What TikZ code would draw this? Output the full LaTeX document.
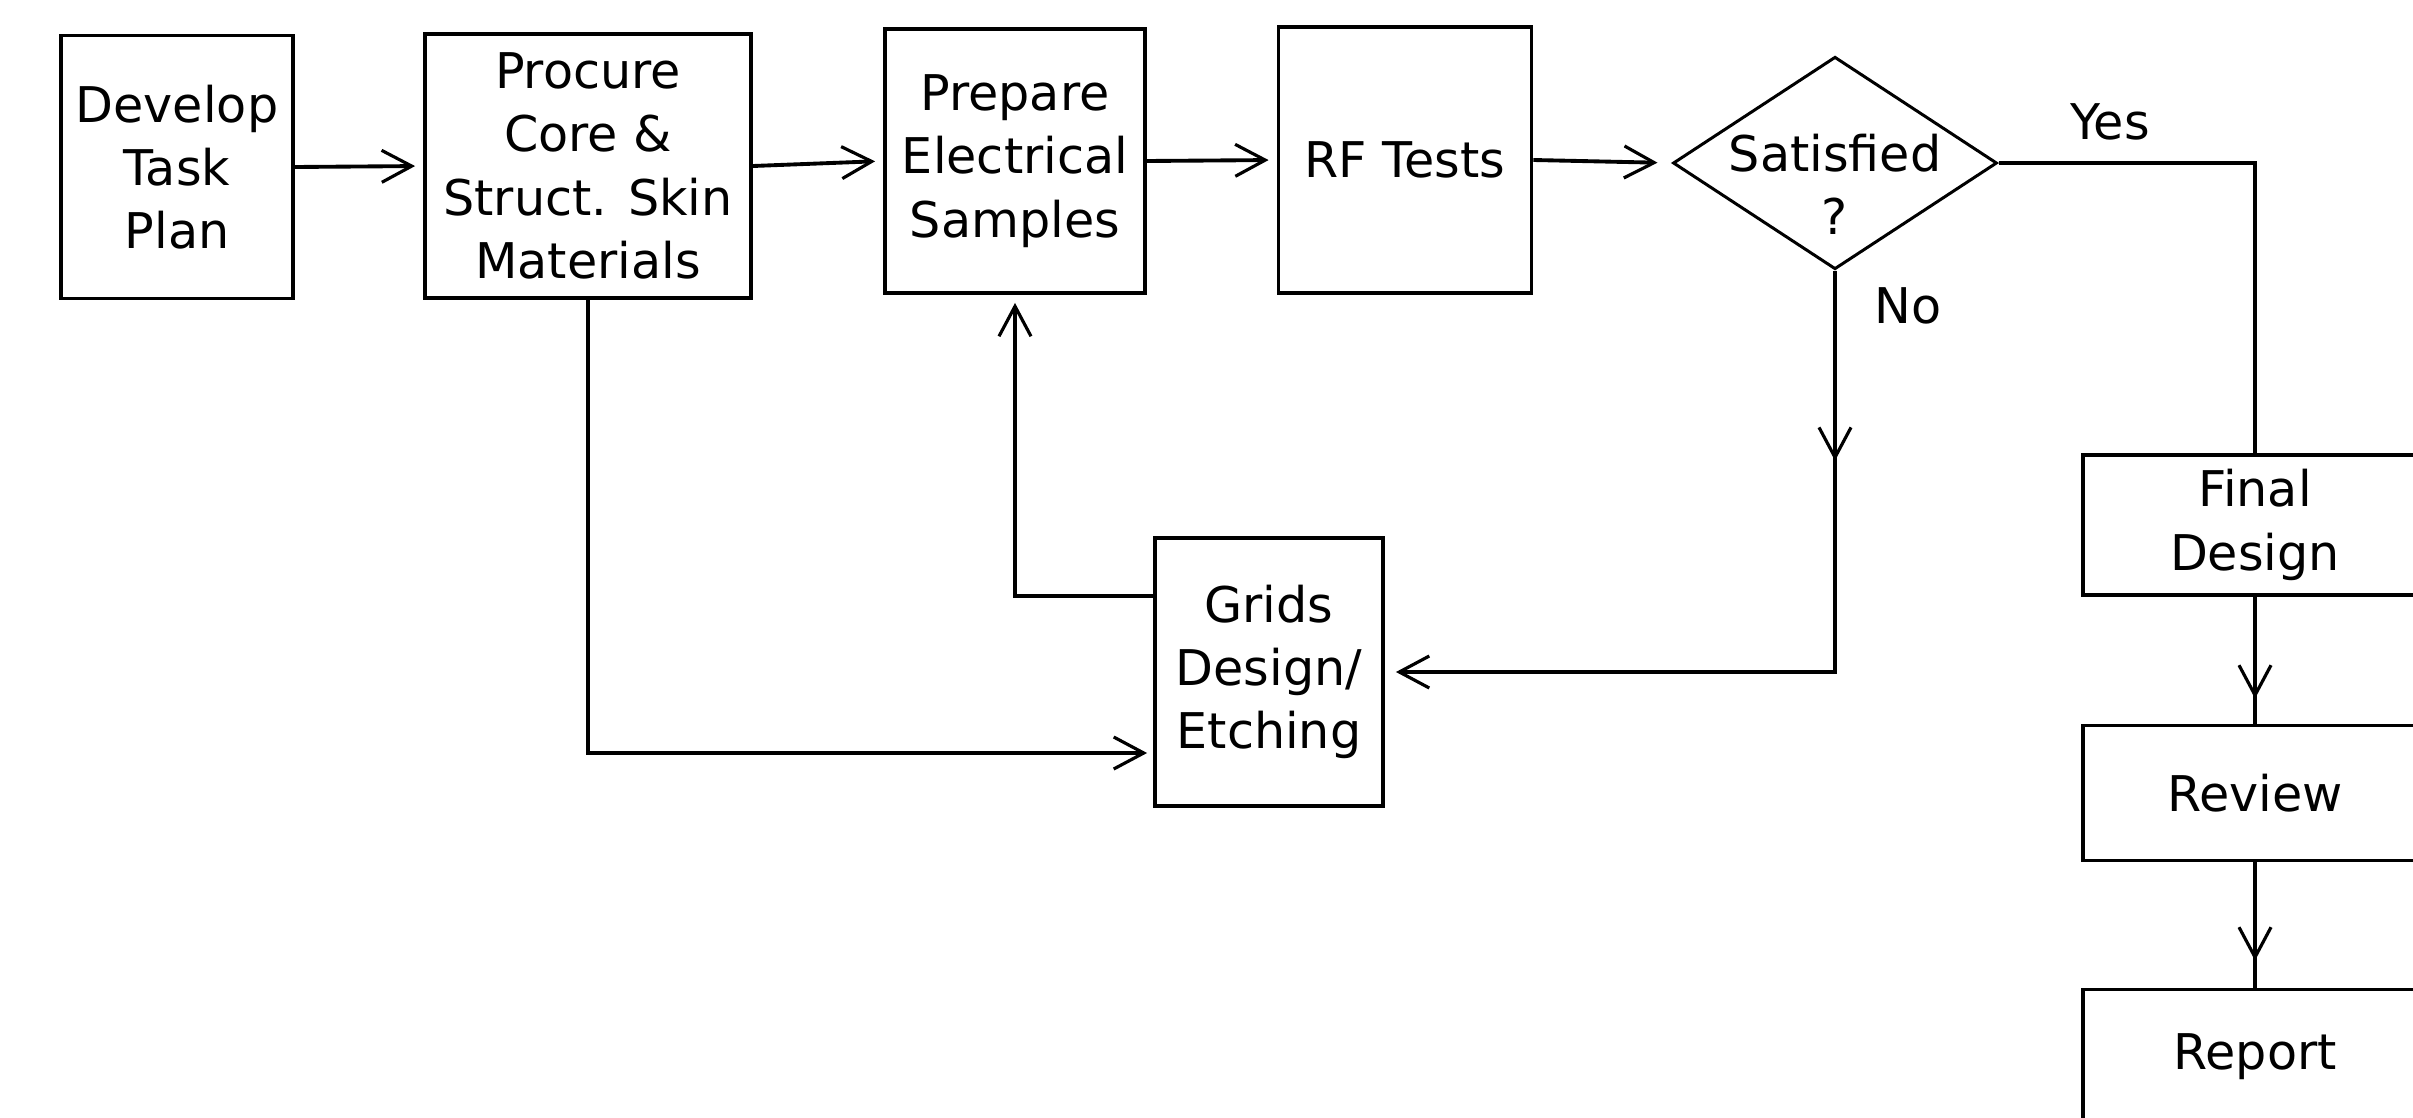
\documentclass[tikz,border=0pt]{standalone}
\usepackage{fontspec}
\setmainfont{DejaVu Sans}
\usetikzlibrary{arrows.meta, shapes.geometric, decorations.markings}

\begin{document}
\begin{tikzpicture}[
    every node/.style={font=\fontsize{14}{18}\selectfont, inner sep=1pt},
    box/.style={draw, line width=1.1pt, align=center},
    decision/.style={draw, diamond, line width=0.85pt, inner sep=0pt, minimum width=3.24cm, minimum height=1.94cm},
    link/.style={line width=1.1pt},
    flow/.style={link, shorten >=0.08cm, -{Straight Barb[length=3mm, width=3.2mm, line width=0.9pt]}},
    tipat/.style={link, postaction={decorate}, decoration={markings, mark=at position #1 with {\arrow{Straight Barb[length=3mm, width=3.2mm, line width=0.9pt]}}}}
]

    \useasboundingbox (0,0) rectangle (24.13,-11.17);

    % 1. 上排主流程
    \node[box, minimum width=2.32cm, minimum height=2.63cm] (develop) at (1.77,-1.67) {Develop\\Task\\Plan};
    \node[box, minimum width=3.26cm, minimum height=2.64cm] (procure) at (5.88,-1.66) {Procure\\Core \&\\Struct. Skin\\Materials};
    \node[box, minimum width=2.60cm, minimum height=2.64cm] (prepare) at (10.15,-1.61) {Prepare\\Electrical\\Samples};
    \node[box, minimum width=2.53cm, minimum height=2.66cm] (rftests) at (14.05,-1.60) {RF Tests};
    \node[decision] (satisfied) at (18.35,-1.63)
        {\raisebox{-0.72cm}[0pt][0pt]{\begin{tabular}[b]{@{}c@{}}Satisfied\\?\end{tabular}}};

    % 2. 右侧收尾
    \node[box, minimum width=3.44cm, minimum height=1.40cm] (final) at (22.55,-5.25) {Final\\Design};
    \node[box, minimum width=3.44cm, minimum height=1.35cm] (review) at (22.55,-7.93) {Review};
    \node[box, minimum width=3.44cm, minimum height=1.35cm] (report) at (22.55,-10.57) {Report};

    % 3. 返工环节
    \node[box, minimum width=2.28cm, minimum height=2.68cm] (grids) at (12.69,-6.72) {Grids\\Design/\\Etching};

    % 4. 连线
    \draw[flow] (develop.east) -- (procure.west);
    \draw[flow] (procure.east) -- (prepare.west);
    \draw[flow] (prepare.east) -- (rftests.west);
    \draw[flow, shorten >=0.14cm] (rftests.east) -- (satisfied.west);

    \draw[link] (satisfied.east) -| (final.north);
    \node (yes) at (21.10,-1.22) {Yes};

    \draw[flow, shorten >=0.11cm, tipat=1.9cm] (satisfied.south) |- (grids.east);
    \node (no) at (19.08,-3.06) {No};

    \draw[flow, shorten >=0.06cm] (procure.south) |- ([yshift=-0.81cm]grids.west);
    \draw[flow, shorten >=0.08cm] ([yshift=0.76cm]grids.west) -| (prepare.south);

    \draw[tipat=-0.25cm] (final) -- (review);
    \draw[tipat=-0.27cm] (review) -- (report);

\end{tikzpicture}
\end{document}
